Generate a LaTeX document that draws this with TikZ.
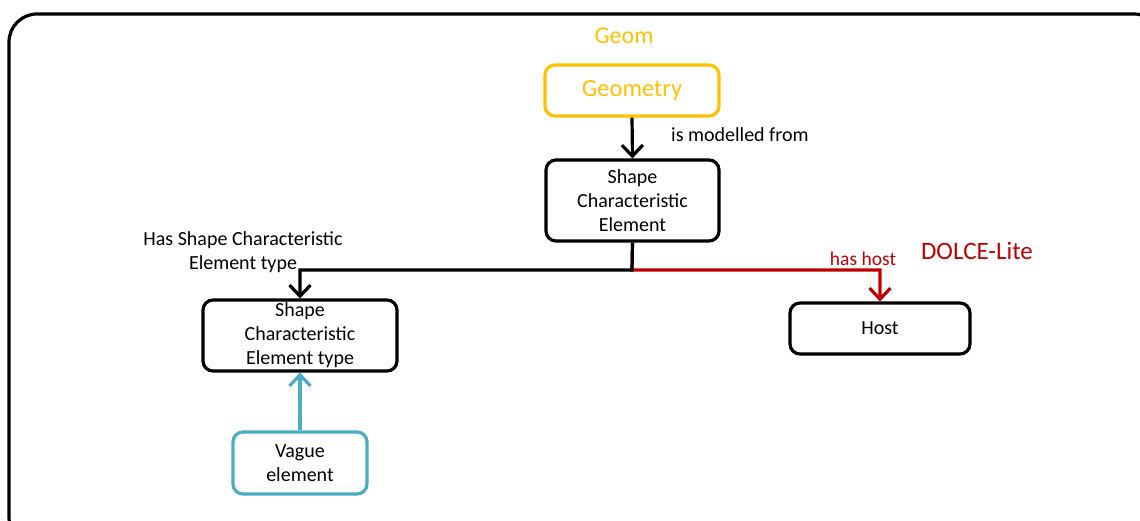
\documentclass[tikz,border=0pt]{standalone}
\usepackage{fontspec}
\setmainfont{Carlito}
\usetikzlibrary{arrows.meta}
\definecolor{gold}{HTML}{FFC000}
\definecolor{dred}{HTML}{C00000}
\definecolor{teal}{HTML}{4BACC6}
\tikzset{
  box/.style={draw, line width=3.2pt, rounded corners=10pt, align=center, inner sep=0pt,
    font=\fontsize{20}{24}\selectfont},
  conn/.style={line width=3.2pt, -{Straight Barb[length=11pt,width=21pt,line width=3.2pt]}},
  lbl/.style={align=center, inner sep=0pt, font=\fontsize{20}{23.5}\selectfont},
}
\begin{document}
\begin{tikzpicture}[x=1pt,y=-1pt]
\useasboundingbox (0,0) rectangle (1140,520);
\draw[line width=3.2pt, rounded corners=28pt] (9,14) rectangle (1162,545);
\node[lbl, text=gold, font=\fontsize{24}{28}\selectfont] (geomlbl) at (624,36) {Geom};
\node[box, draw=gold, text=gold, minimum width=174pt, minimum height=51pt, font=\fontsize{24.5}{28}\selectfont] (geo) at (632,90.5) {Geometry};
\node[box, minimum width=173pt, minimum height=81pt] (sce) at (632.5,200.5) {Shape\\Characteristic\\Element};
\node[box, minimum width=194pt, minimum height=71pt] (type) at (300,335.5) {Shape\\Characteristic\\Element type};
\node[box, minimum width=180pt, minimum height=51pt] (host) at (880,328.5) {Host};
\node[box, draw=teal, minimum width=134pt, minimum height=62pt] (vague) at (300,463) {Vague\\element};
\node[lbl, anchor=west] (ismod) at (671,135) {is modelled from};
\node[lbl] (hasset) at (243,252) {Has Shape Characteristic\\Element type};
\node[lbl, text=dred, font=\fontsize{19.5}{22}\selectfont] (hashost) at (863,259) {has host};
\node[lbl, text=dred, font=\fontsize{25}{28}\selectfont] (dolce) at (977,251) {DOLCE-Lite};
\coordinate (j) at (632,270);
\draw[conn] (geo.south) -- (sce.north);
\draw[conn, draw=dred] (sce.south) -- (j) -| (host.north);
\draw[conn] (sce.south) -- (j) -| (type.north);
\draw[conn, draw=teal] (vague.north) -- (type.south);
\end{tikzpicture}
\end{document}
